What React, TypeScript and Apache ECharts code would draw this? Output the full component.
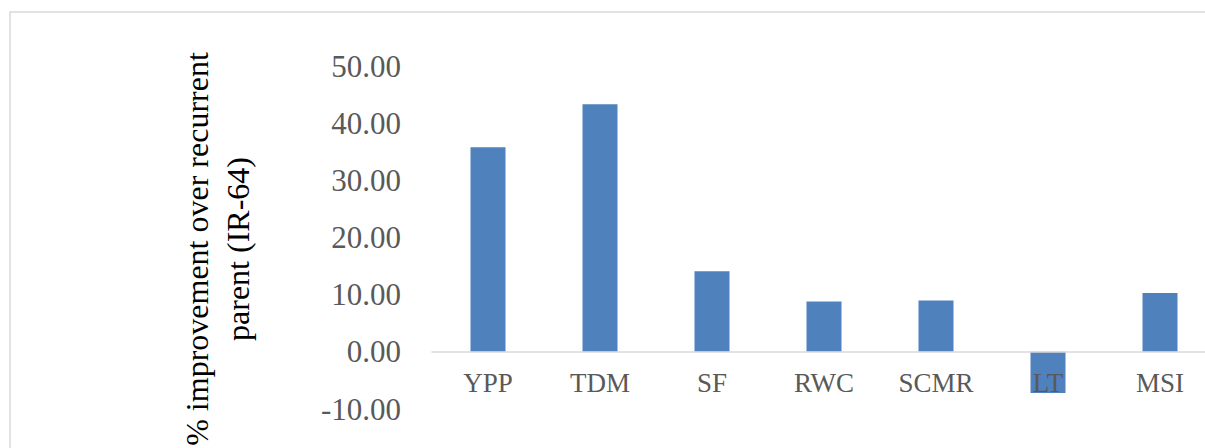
import React, { useEffect, useRef } from "react";
import * as echarts from "echarts";

const categories = ["YPP", "TDM", "SF", "RWC", "SCMR", "LT", "MSI"];
const improvement = [35.8, 43.3, 14.1, 8.8, 9.0, -7.2, 10.3];
const yTicks = { min: -10, max: 50, interval: 10 };
const yTitle = "% improvement over recurrent\nparent (IR-64)";

const SERIF = "'Times New Roman', 'Liberation Serif', serif";
const GRID_H = 343;

export default function App() {
  const ref = useRef<HTMLDivElement>(null);
  useEffect(() => {
    document.body.style.margin = "0";
    if (!ref.current) return;
    const chart = echarts.init(ref.current, null, { renderer: "svg" });
    const zeroOffset = -GRID_H * (0 - yTicks.min) / (yTicks.max - yTicks.min);
    chart.setOption({
      animation: false,
      backgroundColor: "#ffffff",
      grid: {
        left: 432,
        top: 66,
        width: 784,
        height: GRID_H,
        containLabel: false,
        outerBoundsMode: "none",
      },
      xAxis: {
        type: "category",
        data: categories,
        z: 5,
        offset: zeroOffset,
        axisLine: { onZero: false, lineStyle: { color: "#d9d9d9", width: 1.5 } },
        axisTick: { show: false },
        axisLabel: {
          color: "#595959",
          fontFamily: SERIF,
          fontSize: 27,
          margin: 18,
          interval: 0,
        },
        splitLine: { show: false },
      },
      yAxis: {
        type: "value",
        min: yTicks.min,
        max: yTicks.max,
        interval: yTicks.interval,
        axisLine: { show: false },
        axisTick: { show: false },
        splitLine: { show: false },
        axisLabel: {
          color: "#595959",
          fontFamily: SERIF,
          fontSize: 31,
          margin: 31,
          formatter: (v: number) => v.toFixed(2),
        },
      },
      series: [
        {
          type: "bar",
          data: improvement,
          barWidth: 35,
          itemStyle: { color: "#4f81bd" },
        },
      ],
      graphic: [
        {
          type: "rect",
          silent: true,
          shape: { x: 10, y: 12, width: 1400, height: 700 },
          style: { fill: "none", stroke: "#d9d9d9", lineWidth: 1.5 },
        },
        {
          type: "text",
          x: 217,
          y: 249,
          rotation: Math.PI / 2,
          style: {
            text: yTitle,
            fontFamily: SERIF,
            fontSize: 32,
            lineHeight: 41,
            fill: "#000000",
            textAlign: "center",
            align: "center",
            textVerticalAlign: "middle",
            verticalAlign: "middle",
          },
        },
      ],
    });
    return () => chart.dispose();
  }, []);
  return <div ref={ref} style={{ width: 1205, height: 448 }} />;
}
